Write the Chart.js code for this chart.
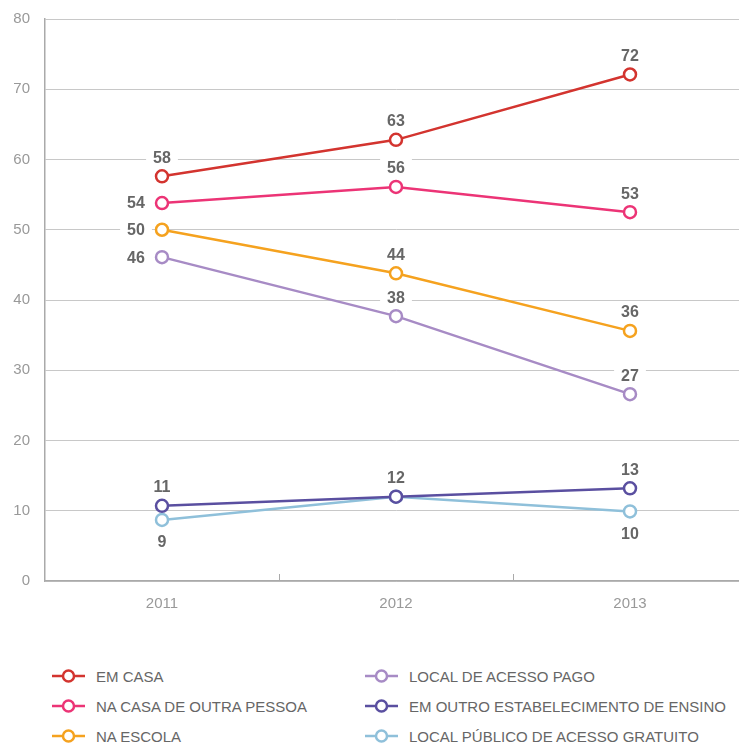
<!DOCTYPE html>
<html>
<head>
<meta charset="utf-8">
<script src="https://cdn.jsdelivr.net/npm/chart.js@4"></script>
<style>
  body { margin: 0; overflow: hidden; background: #fff; font-family: "Liberation Sans", Arial, sans-serif; }
  #wrap { width: 747px; height: 625px; position: relative; }
  #legenda { margin-top: 36px; padding-left: 52px; display: grid; grid-template-columns: 313px 380px; grid-auto-flow: column; grid-template-rows: 30px 30px 30px; }
  .item { display: flex; align-items: center; color: #666; font-size: 15px; white-space: nowrap; }
  .item svg { margin-right: 11px; flex-shrink: 0; }
</style>
</head>
<body>
<div id="wrap"><canvas id="grafico" width="747" height="625"></canvas></div>
<div id="legenda"></div>
<script>
// Dados (percentual)
const anos = ['2011', '2012', '2013'];
const series = [
  'EM CASA',
  'NA CASA DE OUTRA PESSOA',
  'NA ESCOLA',
  'LOCAL DE ACESSO PAGO',
  'EM OUTRO ESTABELECIMENTO DE ENSINO',
  'LOCAL PÚBLICO DE ACESSO GRATUITO'
];
const emCasa = [57.6, 62.8, 72.1];
const naCasaOutra = [53.8, 56.1, 52.5];
const naEscola = [50.0, 43.8, 35.6];
const acessoPago = [46.1, 37.7, 26.6];
const outroEstab = [10.7, 12.0, 13.2];
const publicoGratuito = [8.7, 12.0, 9.9];
const yTicks = [0, 10, 20, 30, 40, 50, 60, 70, 80];

const valores = [emCasa, naCasaOutra, naEscola, acessoPago, outroEstab, publicoGratuito];
const cores = ['#d3342f', '#ec3476', '#f5a21f', '#a78bc5', '#5a4fa0', '#8fc0da'];
// posição do rótulo de cada ponto (null = sem rótulo)
const posRotulos = [
  ['top', 'top', 'top'],
  ['left', 'top', 'top'],
  ['left', 'top', 'top'],
  ['left', 'top', 'top'],
  ['top', 'top', 'top'],
  ['bottom', null, 'bottom']
];

const cinza = '#666';

// plugin simples para os rótulos de valor com fundo branco
const rotulosPlugin = {
  id: 'rotulos',
  afterDatasetsDraw(chart) {
    const ctx = chart.ctx;
    ctx.save();
    ctx.font = 'bold 16px "Liberation Sans", Arial, sans-serif';
    ctx.textAlign = 'center';
    ctx.textBaseline = 'middle';
    chart.data.datasets.forEach((ds, i) => {
      const meta = chart.getDatasetMeta(i);
      meta.data.forEach((pt, j) => {
        const pos = posRotulos[i][j];
        if (!pos) return;
        const txt = String(Math.round(ds.data[j]));
        let x = pt.x, y = pt.y;
        if (pos === 'top') y -= 19;
        if (pos === 'bottom') y += 22;
        if (pos === 'left') x -= 26;
        const w = ctx.measureText(txt).width + 14;
        ctx.fillStyle = '#fff';
        ctx.fillRect(x - w / 2, y - 9, w, 18);
        ctx.fillStyle = cinza;
        ctx.fillText(txt, x, y + 1);
      });
    });
    ctx.restore();
  },
  afterDraw(chart) {
    // pequenos traços entre as categorias no eixo x
    const sx = chart.scales.x;
    const ctx = chart.ctx;
    ctx.save();
    ctx.strokeStyle = '#aaa';
    ctx.lineWidth = 1;
    for (let i = 1; i < anos.length; i++) {
      const x = Math.round((sx.getPixelForTick(i - 1) + sx.getPixelForTick(i)) / 2) + 0.5;
      ctx.beginPath();
      ctx.moveTo(x, sx.top);
      ctx.lineTo(x, sx.top - 7);
      ctx.stroke();
    }
    ctx.restore();
  }
};

const ctx = document.getElementById('grafico').getContext('2d');
new Chart(ctx, {
  type: 'line',
  data: {
    labels: anos,
    datasets: series.map((nome, i) => ({
      label: nome,
      data: valores[i],
      borderColor: cores[i],
      backgroundColor: '#fff',
      pointBackgroundColor: '#fff',
      pointBorderColor: cores[i],
      pointBorderWidth: 2.5,
      pointRadius: 6,
      borderWidth: 2.5,
      tension: 0
    }))
  },
  options: {
    responsive: false,
    animation: false,
    layout: { autoPadding: false, padding: { top: 19, right: 0, left: 0, bottom: 0 } },
    plugins: { legend: { display: false }, tooltip: { enabled: false } },
    scales: {
      x: {
        offset: true,
        grid: { display: false, drawTicks: false },
        border: { color: '#aaa', width: 1.5 },
        ticks: { color: '#999', font: { size: 15, family: '"Liberation Sans", Arial, sans-serif' }, padding: 14 },
        afterFit(scale) { scale.height = 44; scale.paddingLeft = 0; scale.paddingRight = 0; }
      },
      y: {
        min: 0,
        max: 80,
        afterBuildTicks(scale) { scale.ticks = yTicks.map(v => ({ value: v })); },
        grid: { color: '#c8c8c8', drawTicks: false, lineWidth: 1 },
        border: { color: '#aaa', width: 1.5 },
        ticks: { color: '#999', font: { size: 15, family: '"Liberation Sans", Arial, sans-serif' }, padding: 15 },
        afterFit(scale) { scale.width = 45; scale.paddingTop = 0; scale.paddingBottom = 0; }
      }
    }
  },
  plugins: [rotulosPlugin]
});

// legenda em duas colunas
const leg = document.getElementById('legenda');
series.forEach((nome, i) => {
  const d = document.createElement('div');
  d.className = 'item';
  d.innerHTML = '<svg width="33" height="16"><line x1="0" y1="8" x2="33" y2="8" stroke="' + cores[i] +
    '" stroke-width="2.5"/><circle cx="16.5" cy="8" r="5.5" fill="#fff" stroke="' + cores[i] +
    '" stroke-width="2.5"/></svg><span>' + nome + '</span>';
  leg.appendChild(d);
});
</script>
</body>
</html>
